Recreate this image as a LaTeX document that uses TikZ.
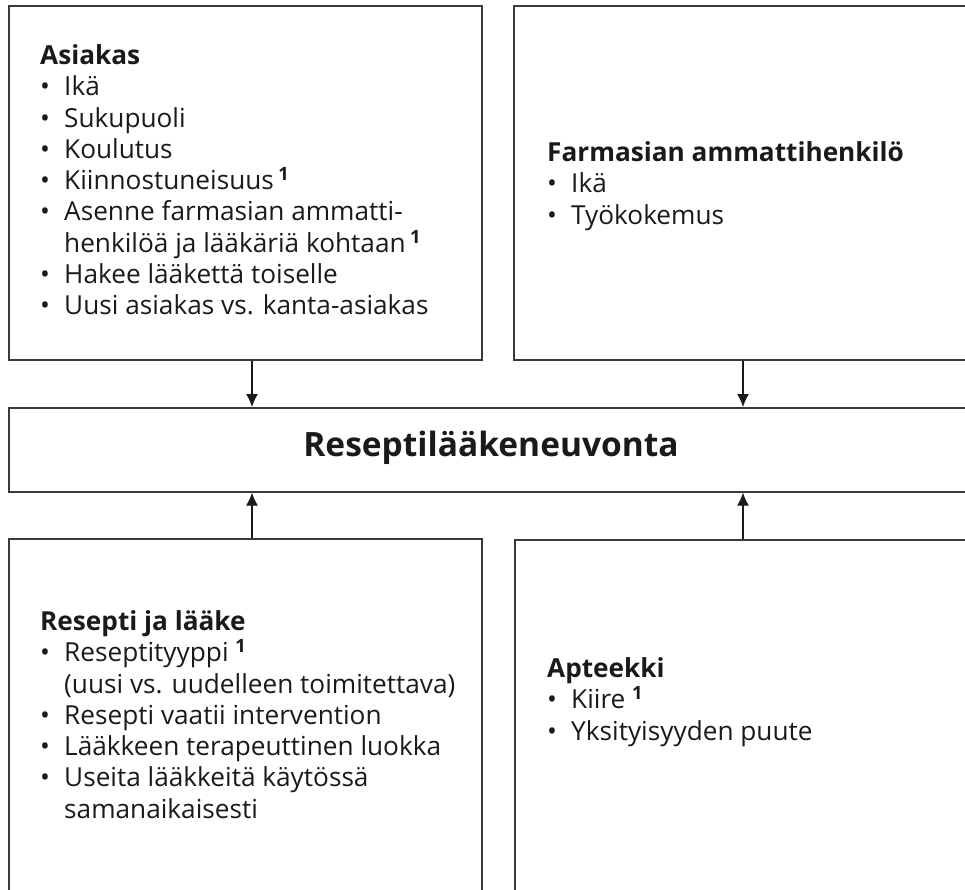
\documentclass[tikz,border=0pt]{standalone}
\usepackage{fontspec}
\setmainfont{Open Sans}
\usetikzlibrary{arrows.meta}

\definecolor{rim}{HTML}{3A3A3A}
\definecolor{ink}{HTML}{1A1A1A}

\newcommand{\itm}{\makebox[24pt][l]{\textbullet}}
\newcommand{\cnt}{\hspace*{24pt}}
\newcommand{\fnote}{\,\textsuperscript{\textbf{1}}}

\tikzset{
  panel/.style={draw=rim, line width=1.6pt, rectangle, anchor=north west, inner sep=0pt},
  itemtext/.style={anchor=north west, inner sep=0pt, align=left, text=ink,
    font=\fontsize{26.2}{31.25}\selectfont},
  titletext/.style={inner sep=0pt, text=ink, font=\fontsize{33.5}{40}\selectfont\bfseries}
}

\begin{document}
\begin{tikzpicture}[x=1pt,y=-1pt,>={Latex[length=13pt,width=12pt]}]
	\useasboundingbox (0,0) rectangle (965,889);
	\clip (0,0) rectangle (965,889);

	%boxes
	\node[panel, minimum width=473pt, minimum height=354pt] (asiakas) at (8,5) {};
	\node[panel, minimum width=480pt, minimum height=354pt] (farmasia) at (513,5) {};
	\node[panel, minimum width=990pt, minimum height=84pt] (neuvonta) at (8,407) {};
	\node[panel, minimum width=473pt, minimum height=380pt] (resepti) at (8,538) {};
	\node[panel, minimum width=480pt, minimum height=380pt] (apteekki) at (514,539) {};

	%box texts
	\node[itemtext] (asiakasTxt) at (40,44.5) {\textbf{Asiakas}\\
		\itm Ikä\\
		\itm Sukupuoli\\
		\itm Koulutus\\
		\itm Kiinnostuneisuus\fnote\\
		\itm Asenne farmasian ammatti-\\
		\cnt henkilöä ja lääkäriä kohtaan\fnote\\
		\itm Hakee lääkettä toiselle\\
		\itm Uusi asiakas vs. kanta-asiakas};
	\node[itemtext] (farmasiaTxt) at (547,141.5) {\textbf{Farmasian ammattihenkilö}\\
		\itm Ikä\\
		\itm Työkokemus};
	\node[itemtext] (reseptiTxt) at (40,610.5) {\textbf{Resepti ja lääke}\\
		\itm Reseptityyppi \textsuperscript{\textbf{1}}\\
		\cnt (uusi vs. uudelleen toimitettava)\\
		\itm Resepti vaatii intervention\\
		\itm Lääkkeen terapeuttinen luokka\\
		\itm Useita lääkkeitä käytössä\\
		\cnt samanaikaisesti};
	\node[itemtext] (apteekkiTxt) at (547,657.5) {\textbf{Apteekki}\\
		\itm Kiire \textsuperscript{\textbf{1}}\\
		\itm Yksityisyyden puute};
	\node[titletext] (neuvontaTxt) at (491,448) {Reseptilääkeneuvonta};

	%arrow columns
	\coordinate (la) at (252,0);
	\coordinate (ra) at (743,0);

	%arrows into the middle box
	\draw[->, draw=ink, line width=1.2pt] (asiakas.south -| la) -- (neuvonta.north -| la);
	\draw[->, draw=ink, line width=1.2pt] (farmasia.south -| ra) -- (neuvonta.north -| ra);
	\draw[->, draw=ink, line width=1.2pt] (resepti.north -| la) -- (neuvonta.south -| la);
	\draw[->, draw=ink, line width=1.2pt] (apteekki.north -| ra) -- (neuvonta.south -| ra);
\end{tikzpicture}
\end{document}
